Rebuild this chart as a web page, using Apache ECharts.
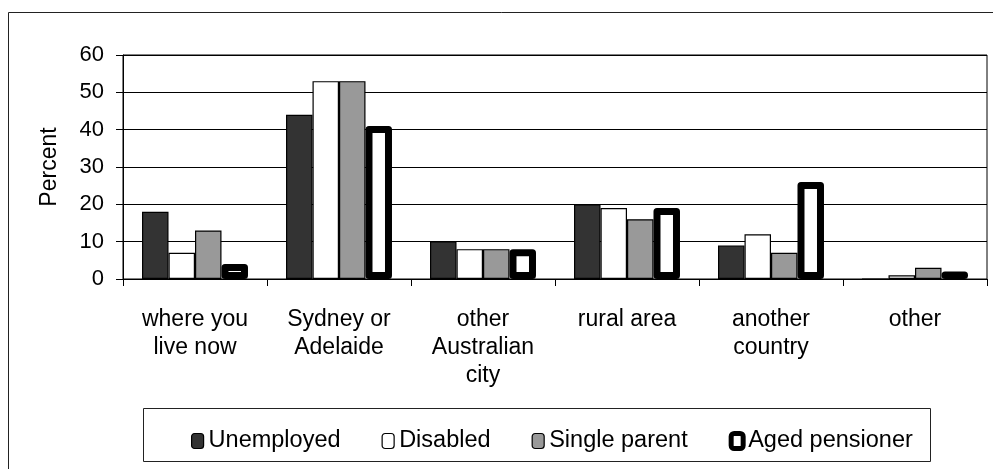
<!DOCTYPE html>
<html>
<head>
<meta charset="utf-8">
<script src="https://cdn.jsdelivr.net/npm/echarts@6/dist/echarts.min.js"></script>
<style>
html,body{margin:0;padding:0;background:#fff;}
#c{width:993px;height:469px;}
</style>
</head>
<body>
<div id="c"></div>
<script>
const categories = ['where you\nlive now', 'Sydney or\nAdelaide', 'other\nAustralian\ncity', 'rural area', 'another\ncountry', 'other'];
const unemployed = [18, 44, 10, 20, 9, 0];
const disabled = [7, 53, 8, 19, 12, 1];
const singleParent = [13, 53, 8, 16, 7, 3];
const agedPensioner = [4, 41, 8, 19, 26, 2];
const yTicks = [0, 10, 20, 30, 40, 50, 60];

const FONT = '"Liberation Sans", Arial, sans-serif';
const chart = echarts.init(document.getElementById('c'));

function thinBar(name, data, color) {
  return {
    name: name, type: 'bar', data: data,
    barGap: '0%', barCategoryGap: '26.4%', clip: false,
    itemStyle: { color: color, borderColor: '#000', borderWidth: 1.2 },
    emphasis: { disabled: true }, animation: false
  };
}

chart.setOption({
  animation: false,
  textStyle: { fontFamily: FONT },
  graphic: [
    { type: 'rect', silent: true, shape: { x: 8.5, y: 12.5, width: 1000, height: 600 },
      style: { fill: 'none', stroke: '#222', lineWidth: 1 } },
    { type: 'rect', silent: true, shape: { x: 143.5, y: 408.5, width: 787, height: 53 },
      style: { fill: '#fff', stroke: '#222', lineWidth: 1 }, z: 0 }
  ],
  grid: { left: 123, right: 6, top: 55, bottom: 190, show: true, borderColor: '#000', borderWidth: 1, containLabel: false },
  legend: {
    left: 186, top: 424, itemGap: 41, itemWidth: 12, itemHeight: 15,
    textStyle: { fontSize: 23.5, color: '#000', fontFamily: FONT, padding: [0, 0, 0, 0] },
    data: [
      { name: 'Unemployed', itemStyle: { color: '#333333', borderColor: '#000', borderWidth: 1.2 } },
      { name: 'Disabled', itemStyle: { color: '#ffffff', borderColor: '#000', borderWidth: 1.2 } },
      { name: 'Single parent', itemStyle: { color: '#999999', borderColor: '#000', borderWidth: 1.2 } },
      { name: 'Aged pensioner', itemStyle: { color: '#ffffff', borderColor: '#000', borderWidth: 5, borderJoin: 'round' } }
    ],
    z: 5
  },
  xAxis: {
    type: 'category', data: categories,
    axisLine: { lineStyle: { color: '#000', width: 1 } },
    axisTick: { show: true, length: 7, lineStyle: { color: '#000' } },
    axisLabel: { fontSize: 23, lineHeight: 28, color: '#000', margin: 27, fontFamily: FONT, interval: 0 }
  },
  yAxis: {
    type: 'value', min: 0, max: 60, interval: 10,
    name: 'Percent', nameLocation: 'middle', nameGap: 62,
    nameTextStyle: { fontSize: 23, color: '#000', fontFamily: FONT },
    axisLine: { show: true, lineStyle: { color: '#000', width: 1 } },
    axisTick: { show: true, length: 7, lineStyle: { color: '#000' } },
    axisLabel: { fontSize: 22, color: '#000', margin: 19, fontFamily: FONT,
      formatter: function (v) { return yTicks.indexOf(v) >= 0 ? String(v) : ''; } },
    splitLine: { show: true, lineStyle: { color: '#000', width: 1 } }
  },
  series: [
    thinBar('Unemployed', unemployed, '#333333'),
    thinBar('Disabled', disabled, '#ffffff'),
    thinBar('Single parent', singleParent, '#999999'),
    {
      name: 'Aged pensioner', type: 'bar', data: agedPensioner,
      barGap: '0%', barCategoryGap: '26.4%', clip: false,
      itemStyle: { color: '#ffffff', borderColor: '#000', borderWidth: 7, borderJoin: 'round' },
      emphasis: { disabled: true }, animation: false
    }
  ]
});
</script>
</body>
</html>
